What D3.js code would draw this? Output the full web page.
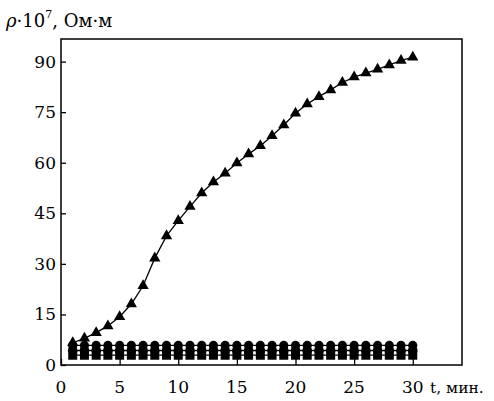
<!DOCTYPE html>
<html><head><meta charset="utf-8">
<script src="https://cdn.jsdelivr.net/npm/d3@7"></script>
<style>body{margin:0;background:#fff}svg{display:block}</style>
</head><body><svg id="c" width="494" height="401"></svg>
<script>
const t = d3.range(1, 31);
const triangles = [6.6,7.9,9.6,11.6,14.3,18.1,23.5,31.7,38.3,42.8,47,51,54.3,56.9,59.9,62.6,65,68,71.2,74.7,77.4,79.6,81.6,83.8,85.4,86.6,87.7,89,90.3,91.3];
const circlesTop = t.map(() => 5.8);
const circlesMid = t.map(() => 4.3);
const squaresLow = t.map(() => 2.9);
const xTicks = [0,5,10,15,20,25,30];
const yTicks = [0,15,30,45,60,75,90];

const F = "'DejaVu Serif', serif";
const svg = d3.select("#c");
const x = d3.scaleLinear().domain([0, 34.2]).range([61, 462]);
const y = d3.scaleLinear().domain([0, 96.7]).range([365, 39]);

svg.append("rect").attr("x",61).attr("y",39).attr("width",401).attr("height",326)
  .attr("fill","none").attr("stroke","#000").attr("stroke-width",1.5);

const ya = svg.append("g").attr("transform","translate(61,0)")
  .call(d3.axisRight(y).tickValues(yTicks).tickSize(5).tickFormat(""));
ya.select(".domain").remove();
ya.selectAll("line").attr("stroke-width",1.3);
svg.selectAll(".ylab").data(yTicks).enter().append("text")
  .attr("font-family",F)
  .attr("x",56).attr("y",d=>y(d)+6).attr("text-anchor","end")
  .attr("font-size",17).text(d=>d);

const xa = svg.append("g").attr("transform","translate(0,365)")
  .call(d3.axisTop(x).tickValues(xTicks).tickSize(6).tickFormat(""));
xa.select(".domain").remove();
xa.selectAll("line").attr("stroke-width",1.3);
svg.selectAll(".xlab").data(xTicks).enter().append("text")
  .attr("font-family",F)
  .attr("x",d=>x(d)).attr("y",393).attr("text-anchor","middle")
  .attr("font-size",17).text(d=>d);
svg.append("text").attr("font-family",F).attr("x",430).attr("y",393).attr("font-size",15.5).text("t, мин.");

const title = svg.append("text").attr("font-family",F).attr("x",6).attr("y",27).attr("font-size",18);
title.append("tspan").attr("font-style","italic").text("ρ");
title.append("tspan").text("·10");
title.append("tspan").attr("font-size",11).attr("dy",-9).text("7");
title.append("tspan").attr("dy",9).text(", Ом·м");

const line = d3.line().x((d,i)=>x(t[i])).y(d=>y(d));
[squaresLow, circlesMid, circlesTop, triangles].forEach(s=>{
  svg.append("path").attr("d",line(s)).attr("fill","none").attr("stroke","#000").attr("stroke-width",1.3);
});
svg.selectAll(".sq").data(squaresLow).enter().append("rect")
  .attr("x",(d,i)=>x(t[i])-4.5).attr("y",d=>y(d)-4.5).attr("width",9).attr("height",9).attr("fill","#000");
svg.selectAll(".cm").data(circlesMid).enter().append("circle")
  .attr("cx",(d,i)=>x(t[i])).attr("cy",d=>y(d)).attr("r",4.8).attr("fill","#000");
svg.selectAll(".ct").data(circlesTop).enter().append("circle")
  .attr("cx",(d,i)=>x(t[i])).attr("cy",d=>y(d)).attr("r",4.6).attr("fill","#000");
const tri = d3.symbol().type(d3.symbolTriangle).size(55);
svg.selectAll(".tr").data(triangles).enter().append("path")
  .attr("d",tri).attr("transform",(d,i)=>`translate(${x(t[i])},${y(d)})`).attr("fill","#000");
</script></body></html>
